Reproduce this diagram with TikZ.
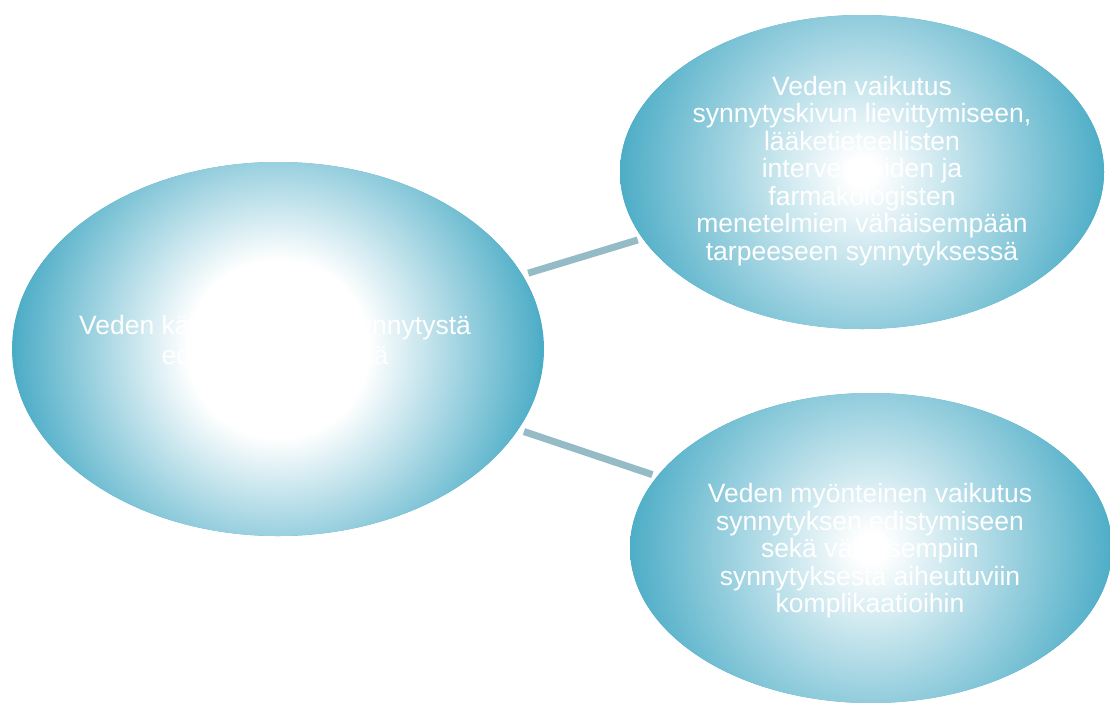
\documentclass[tikz,border=0pt]{standalone}
\usepackage{fontspec}
\setmainfont{Liberation Sans}
\usetikzlibrary{shapes.geometric}
\definecolor{aquaedge}{RGB}{75,172,198}
\definecolor{linkgray}{RGB}{149,187,198}
\pgfdeclareradialshading{bigglow}{\pgfpoint{0bp}{0bp}}{color(0bp)=(white);color(8.5bp)=(white);color(25bp)=(aquaedge);color(50bp)=(aquaedge)}
\pgfdeclareradialshading{smallglow}{\pgfpoint{0bp}{0bp}}{color(0bp)=(white);color(1.5bp)=(white);color(25bp)=(aquaedge);color(50bp)=(aquaedge)}

\begin{document}
\begin{tikzpicture}[x=1pt,y=-1pt,
        bubble/.style={ellipse,fill=aquaedge,inner sep=0pt},
        bigbubble/.style={bubble,path picture={\shade[shading=bigglow] (path picture bounding box.center) circle (262pt);}},
        smallbubble/.style={bubble,path picture={\shade[shading=smallglow] (path picture bounding box.center) circle (245pt);}},
        link/.style={draw=linkgray,line width=7pt,shorten <=6pt,shorten >=5pt},
        bubbletext/.style={text=white,align=center,font=\fontsize{26.5}{27.5}\selectfont}]
    \useasboundingbox (0,0) rectangle (1110,702);
    % the three bubbles
    \node[bigbubble,minimum width=532pt,minimum height=374pt] (use) at (278,349) {};
    \node[smallbubble,minimum width=484pt,minimum height=314pt] (pain) at (862,172) {};
    \node[smallbubble,minimum width=482pt,minimum height=310pt] (labour) at (871,548) {};
    % links from the centre bubble
    \draw[link] (use) -- (pain);
    \draw[link] (use) -- (labour);
    % texts
    \node[bubbletext,font=\fontsize{26.5}{30}\selectfont] (usetext) at (275,343) {Veden käyttö kivun- ja synnytystä\\edistävänä tekijänä};
    \node[bubbletext] (paintext) at (862,171) {Veden vaikutus\\synnytyskivun lievittymiseen,\\lääketieteellisten\\interventioiden ja\\farmakologisten\\menetelmien vähäisempään\\tarpeeseen synnytyksessä};
    \node[bubbletext] (labourtext) at (870,551) {Veden myönteinen vaikutus\\synnytyksen edistymiseen\\sekä vähäisempiin\\synnytyksestä aiheutuviin\\komplikaatioihin};
\end{tikzpicture}
\end{document}
